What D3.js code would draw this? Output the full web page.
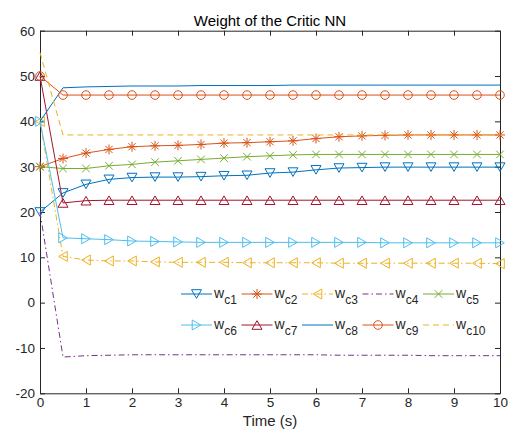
<!DOCTYPE html>
<html>
<head>
<meta charset="utf-8">
<script src="https://cdn.jsdelivr.net/npm/d3@7"></script>
<style>
  body { margin: 0; background: #fff; }
  text { font-family: "Liberation Sans", Arial, sans-serif; }
</style>
</head>
<body>
<script>
// sample times (s)
var time = [0, 0.5, 1, 1.5, 2, 2.5, 3, 3.5, 4, 4.5, 5, 5.5, 6, 6.5, 7, 7.5, 8, 8.5, 9, 9.5, 10];

// critic weights
var wc1 = [20, 24.2, 26.1, 27.2, 27.6, 27.7, 27.7, 27.8, 28.0, 28.1, 28.6, 28.8, 29.3, 29.7, 29.8, 29.9, 29.9, 29.9, 29.9, 29.9, 29.9];
var wc2 = [30, 31.8, 33.0, 33.8, 34.4, 34.6, 34.7, 34.9, 35.2, 35.3, 35.5, 35.7, 36.2, 36.6, 36.8, 36.9, 37.0, 37.0, 37.0, 37.0, 37.0];
var wc3 = [40, 10.2, 9.4, 9.2, 9.2, 9.0, 8.9, 8.9, 8.9, 8.8, 8.8, 8.8, 8.8, 8.7, 8.7, 8.7, 8.7, 8.7, 8.7, 8.7, 8.6];
var wc4 = [20, -12.0, -11.7, -11.6, -11.5, -11.5, -11.5, -11.5, -11.5, -11.5, -11.5, -11.5, -11.5, -11.6, -11.6, -11.6, -11.6, -11.7, -11.7, -11.7, -11.7];
var wc5 = [30, 29.6, 29.6, 30.2, 30.5, 31.0, 31.3, 31.6, 31.9, 32.2, 32.4, 32.6, 32.7, 32.7, 32.7, 32.7, 32.7, 32.7, 32.7, 32.7, 32.7];
var wc6 = [40, 14.3, 14.1, 13.9, 13.6, 13.5, 13.4, 13.3, 13.3, 13.3, 13.3, 13.3, 13.3, 13.3, 13.3, 13.2, 13.2, 13.2, 13.2, 13.2, 13.2];
var wc7 = [50, 22.0, 22.5, 22.6, 22.6, 22.6, 22.6, 22.6, 22.6, 22.6, 22.6, 22.6, 22.6, 22.6, 22.6, 22.6, 22.6, 22.6, 22.6, 22.6, 22.6];
var wc8 = [40, 47.4, 47.6, 47.7, 47.8, 47.8, 47.8, 47.9, 47.9, 47.9, 47.9, 48.0, 48.0, 48.0, 48.0, 48.0, 48.0, 48.0, 48.0, 48.0, 48.0];
var wc9 = [50, 45.8, 45.8, 45.8, 45.8, 45.8, 45.8, 45.8, 45.8, 45.8, 45.8, 45.8, 45.8, 45.8, 45.8, 45.8, 45.8, 45.8, 45.8, 45.8, 45.8];
var wc10 = [55.2, 37.0, 37.0, 37.0, 37.0, 37.0, 37.0, 37.0, 37.0, 37.0, 37.0, 37.0, 37.0, 37.0, 37.0, 37.0, 37.0, 37.0, 37.0, 37.0, 37.0];

var names = ["c1", "c2", "c3", "c4", "c5", "c6", "c7", "c8", "c9", "c10"];
var xTicks = [0, 1, 2, 3, 4, 5, 6, 7, 8, 9, 10];
var yTicks = [-20, -10, 0, 10, 20, 30, 40, 50, 60];

var series = [wc1, wc2, wc3, wc4, wc5, wc6, wc7, wc8, wc9, wc10];
var colors = ["#0072BD", "#D95319", "#EDB120", "#7E2F8E", "#77AC30", "#4DBEEE", "#A2142F", "#0072BD", "#D95319", "#EDB120"];
var markers = ["v", "*", "<", "", "x", ">", "^", "", "o", ""];
var dashes = [null, null, "6,3,1.5,3", "6,3,1.5,3", null, null, null, null, null, "6,4"];

var width = 513, height = 440;
var axisColor = "#262626";

var svg = d3.select("body").append("svg")
    .attr("width", width)
    .attr("height", height);

svg.append("rect").attr("width", width).attr("height", height).attr("fill", "#fff");

var x = d3.scaleLinear().domain([0, 10]).range([40, 500]);
var y = d3.scaleLinear().domain([-20, 60]).range([393.3, 30.7]);

function markerPath(type) {
  switch (type) {
    case "v": return "M-5,-4.3L5,-4.3L0,4.3Z";
    case "^": return "M-5,4.3L5,4.3L0,-4.3Z";
    case "<": return "M4.3,-5L4.3,5L-4.3,0Z";
    case ">": return "M-4.3,-5L-4.3,5L4.3,0Z";
    case "o": return "M4.3,0A4.3,4.3 0 1,1 -4.3,0A4.3,4.3 0 1,1 4.3,0Z";
    case "x": return "M-3.8,-3.8L3.8,3.8M-3.8,3.8L3.8,-3.8";
    case "*": return "M-5,0L5,0M0,-5L0,5M-3.6,-3.6L3.6,3.6M-3.6,3.6L3.6,-3.6";
  }
  return "";
}

// plain hyphen for negatives, like the original
function plain(d) { return String(d); }

// axes, MATLAB style box with inward ticks
function styleAxis(g) {
  g.select(".domain").attr("stroke", axisColor);
  g.selectAll(".tick line").attr("stroke", axisColor);
  g.selectAll(".tick text")
    .attr("fill", axisColor)
    .style("font-size", "13.5px")
    .style("font-family", "'Liberation Sans', Arial, sans-serif");
}

svg.append("g")
    .attr("transform", "translate(0," + y(-20) + ")")
    .call(d3.axisBottom(x).tickValues(xTicks).tickFormat(plain).tickSizeInner(-5).tickSizeOuter(0).tickPadding(4))
    .call(styleAxis);

svg.append("g")
    .attr("transform", "translate(0," + y(60) + ")")
    .call(d3.axisTop(x).tickValues(xTicks).tickSizeInner(-5).tickSizeOuter(0).tickFormat(""))
    .call(styleAxis);

svg.append("g")
    .attr("transform", "translate(" + x(0) + ",0)")
    .call(d3.axisLeft(y).tickValues(yTicks).tickFormat(plain).tickSizeInner(-5).tickSizeOuter(0).tickPadding(5))
    .call(styleAxis);

svg.append("g")
    .attr("transform", "translate(" + x(10) + ",0)")
    .call(d3.axisRight(y).tickValues(yTicks).tickSizeInner(-5).tickSizeOuter(0).tickFormat(""))
    .call(styleAxis);

// series
var line = d3.line()
    .x(function(d, i) { return x(time[i]); })
    .y(function(d) { return y(d); });

var plot = svg.append("g");

series.forEach(function(s, k) {
  var g = plot.append("g");
  g.append("path")
      .datum(s)
      .attr("d", line)
      .attr("fill", "none")
      .attr("stroke", colors[k])
      .attr("stroke-width", 1)
      .attr("stroke-dasharray", dashes[k]);

  if (markers[k]) {
    g.selectAll(".mk")
      .data(s)
      .enter().append("path")
        .attr("class", "mk")
        .attr("transform", function(d, i) { return "translate(" + x(time[i]) + "," + y(d) + ")"; })
        .attr("d", markerPath(markers[k]))
        .attr("fill", "none")
        .attr("stroke", colors[k])
        .attr("stroke-width", 1);
  }
});

// title and label
svg.append("text")
    .attr("x", (x(0) + x(10)) / 2)
    .attr("y", 26)
    .attr("text-anchor", "middle")
    .style("font-size", "15px")
    .attr("fill", "#000")
    .text("Weight of the Critic NN");

svg.append("text")
    .attr("x", (x(0) + x(10)) / 2)
    .attr("y", 426)
    .attr("text-anchor", "middle")
    .style("font-size", "15px")
    .attr("fill", axisColor)
    .text("Time (s)");

// legend, 5 columns x 2 rows
var legend = svg.append("g")
  .selectAll("g")
  .data(names)
  .enter().append("g")
    .attr("transform", function(d, i) { return "translate(" + (181 + (i % 5) * 60.5) + "," + (294 + Math.floor(i / 5) * 31) + ")"; });

legend.append("line")
    .attr("x2", 31)
    .attr("stroke", function(d, i) { return colors[i]; })
    .attr("stroke-width", 1)
    .attr("stroke-dasharray", function(d, i) { return dashes[i]; });

legend.append("path")
    .attr("transform", "translate(15.5,0)")
    .attr("d", function(d, i) { return markerPath(markers[i]); })
    .attr("fill", "none")
    .attr("stroke", function(d, i) { return colors[i]; })
    .attr("stroke-width", 1);

var lt = legend.append("text")
    .attr("x", 33)
    .attr("y", 3.5)
    .attr("fill", axisColor)
    .style("font-size", "14px");

lt.append("tspan").text("w");
lt.append("tspan")
    .attr("dy", 6)
    .style("font-size", "12px")
    .text(function(d) { return d; });
</script>
</body>
</html>
